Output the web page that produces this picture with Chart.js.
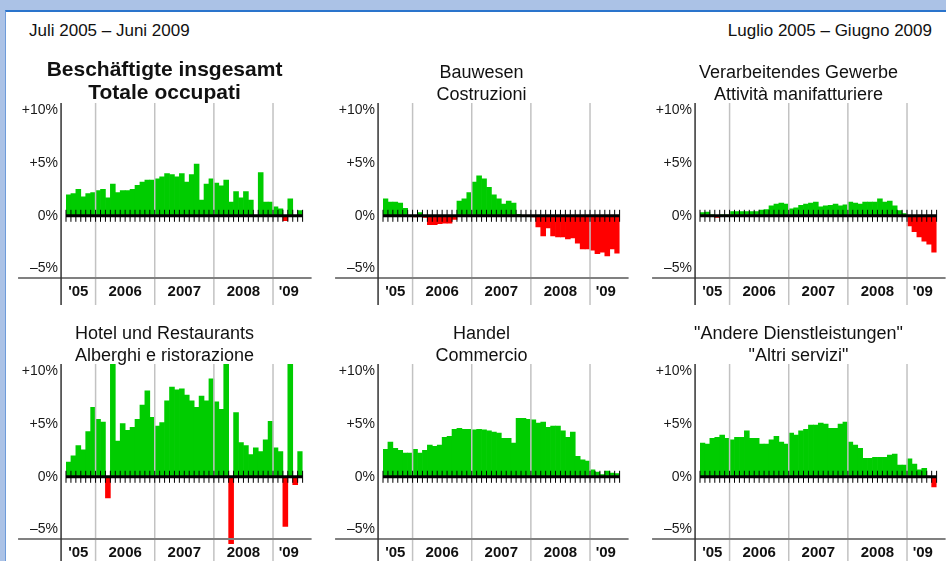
<!DOCTYPE html>
<html>
<head>
<meta charset="utf-8">
<script src="https://cdn.jsdelivr.net/npm/chart.js@4.4.1/dist/chart.umd.min.js"></script>
<style>
html, body { margin: 0; padding: 0; }
body { width: 946px; height: 561px; background: #abc2e6; overflow: hidden; position: relative; font-family: "Liberation Sans", Arial, sans-serif; }
#frame { position: absolute; left: 5px; top: 10px; right: 0; bottom: 0; background: #fff; border-top: 2px solid #2a74cc; border-left: 1px solid #6e9bd9; }
.head { position: absolute; top: 20px; font-size: 17px; line-height: 22px; color: #111; }
.panel { position: absolute; width: 305px; }
.row0 { top: 50px; height: 255px; }
.row1 { top: 311px; height: 250px; }
</style>
</head>
<body>
<div id="frame"></div>
<div class="head" style="left:29px">Juli 2005 – Juni 2009</div>
<div class="head" style="right:14px">Luglio 2005 – Giugno 2009</div>

<div class="panel row0" style="left:10px"><canvas id="c1"></canvas></div>
<div class="panel row0" style="left:327px"><canvas id="c2"></canvas></div>
<div class="panel row0" style="left:644px"><canvas id="c3"></canvas></div>
<div class="panel row1" style="left:10px"><canvas id="c4"></canvas></div>
<div class="panel row1" style="left:327px"><canvas id="c5"></canvas></div>
<div class="panel row1" style="left:644px"><canvas id="c6"></canvas></div>

<script>
// months July 2005 - June 2009
const months = [
  'Jul 05','Aug 05','Sep 05','Oct 05','Nov 05','Dec 05',
  'Jan 06','Feb 06','Mar 06','Apr 06','May 06','Jun 06','Jul 06','Aug 06','Sep 06','Oct 06','Nov 06','Dec 06',
  'Jan 07','Feb 07','Mar 07','Apr 07','May 07','Jun 07','Jul 07','Aug 07','Sep 07','Oct 07','Nov 07','Dec 07',
  'Jan 08','Feb 08','Mar 08','Apr 08','May 08','Jun 08','Jul 08','Aug 08','Sep 08','Oct 08','Nov 08','Dec 08',
  'Jan 09','Feb 09','Mar 09','Apr 09','May 09','Jun 09'
];
const yearLabels = ["'05", '2006', '2007', '2008', "'09"];
const yearStarts = [0, 6, 18, 30, 42]; // index of first month of each year
const yTicks = [-5, 0, 5, 10];

// change vs. same month of previous year, %
const total = [2.0, 2.1, 2.5, 1.8, 2.1, 2.2,
  2.4, 2.5, 1.7, 3.0, 2.2, 2.4, 2.4, 2.5, 2.9, 3.2, 3.4, 3.4,
  3.5, 3.7, 4.0, 3.9, 3.7, 4.0, 3.2, 3.9, 4.9, 1.5, 3.0, 3.5,
  3.1, 2.85, 3.4, 1.3, 2.3, 1.7, 2.3, 1.5, 0, 4.1, 1.3, 1.3,
  0.85, 0.65, -0.45, 1.6, 0, 0.5];
const construction = [1.6, 1.3, 1.3, 1.2, 0.7, 0,
  -0.1, 0.3, -0.15, -0.85, -0.85, -0.75, -0.7, -0.7, -0.35, 1.4, 1.6, 2.2,
  3.2, 3.8, 3.5, 2.7, 2.0, 1.6, 1.1, 1.4, 1.2, 0.15, 0, 0,
  -0.1, -1.05, -1.9, -1.15, -1.9, -2.0, -2.0, -2.2, -2.1, -2.6, -3.15, -3.15,
  -3.25, -3.6, -3.45, -3.8, -3.15, -3.55];
const manufacturing = [0.3, 0.35, 0.1, -0.15, 0.1, 0.1,
  0.4, 0.4, 0.4, 0.4, 0.4, 0.4, 0.55, 0.6, 0.95, 1.1, 1.2, 1.1,
  0.65, 0.75, 1.0, 1.1, 1.2, 1.3, 0.85, 0.95, 1.0, 1.1, 0.95, 1.05,
  1.3, 1.2, 1.1, 1.3, 1.3, 1.3, 1.6, 1.3, 1.4, 0.95, 0.5, 0.2,
  -0.95, -1.5, -2.0, -2.4, -2.7, -3.45];
const hotels = [1.4, 2.0, 2.95, 2.55, 4.3, 6.6,
  5.45, 5.2, -2.0, 11.5, 3.4, 5.05, 4.4, 4.7, 5.45, 6.8, 8.15, 5.65,
  4.8, 5.15, 7.2, 8.5, 8.25, 8.35, 7.75, 7.2, 6.6, 7.65, 7.2, 9.3,
  7.1, 6.4, 11.5, -6.4, 6.1, 3.25, 2.95, 2.1, 2.75, 2.4, 3.5, 5.25,
  2.75, 2.4, -4.7, 11.5, -0.75, 2.4];
const trade = [2.6, 3.3, 2.7, 2.5, 2.25, 2.25,
  2.6, 2.25, 2.5, 3.0, 2.9, 3.0, 3.75, 3.85, 4.5, 4.6, 4.5, 4.5,
  4.45, 4.5, 4.45, 4.35, 4.25, 4.15, 3.65, 3.65, 3.2, 5.55, 5.55, 5.45,
  5.4, 5.1, 5.2, 4.7, 4.8, 4.8, 4.35, 3.75, 4.25, 1.95, 1.6, 1.5,
  0.65, 0.45, 0.2, 0.55, 0.35, 0.3];
const otherServices = [3.2, 3.1, 3.65, 3.75, 3.95, 3.65,
  3.5, 3.75, 3.75, 4.35, 3.65, 3.65, 3.1, 3.1, 3.5, 3.85, 3.3, 3.1,
  4.15, 3.95, 4.35, 4.5, 4.9, 4.9, 5.1, 5.0, 4.6, 4.6, 5.0, 5.2,
  3.3, 3.0, 2.7, 1.75, 1.75, 1.85, 1.85, 1.85, 2.05, 2.15, 1.1, 1.1,
  1.7, 1.2, 0.65, 0.8, 0, -0.95];

const FONT = '"Liberation Sans", Arial, sans-serif';
Chart.defaults.font.family = FONT;

// axis lines, year separators, zero line with month ticks, year labels, title
const decor = {
  id: 'decor',
  afterDatasetsDraw(chart, args, opts) {
    const { ctx, chartArea: a, scales: { x, y } } = chart;
    const w = x.getPixelForValue(1) - x.getPixelForValue(0);
    const edge = i => x.getPixelForValue(i - 0.5);
    const axisX = a.left - w;
    const bottom = chart.height;
    const line = (x1, y1, x2, y2) => { ctx.beginPath(); ctx.moveTo(x1, y1); ctx.lineTo(x2, y2); ctx.stroke(); };
    ctx.save();

    ctx.strokeStyle = '#c2c2c2';
    ctx.lineWidth = 1.5;
    yearStarts.slice(1).forEach(i => line(edge(i), a.top, edge(i), bottom));

    const y0 = y.getPixelForValue(0);
    ctx.strokeStyle = '#000';
    ctx.lineWidth = 3;
    line(edge(0), y0, edge(months.length), y0);
    ctx.lineWidth = 1;
    for (let i = 0; i <= months.length; i++) line(edge(i), y0 - 6, edge(i), y0 + 6);

    ctx.strokeStyle = '#808080';
    ctx.lineWidth = 2;
    line(axisX - 43, a.bottom, a.right + 9, a.bottom);

    ctx.strokeStyle = '#333';
    ctx.lineWidth = 1.5;
    line(axisX, a.top, axisX, bottom);

    ctx.fillStyle = '#111';
    ctx.textAlign = 'center';
    ctx.textBaseline = 'middle';
    ctx.font = 'bold 15px ' + FONT;
    yearLabels.forEach((t, k) => {
      const l = k === 0 ? axisX : edge(yearStarts[k]);
      const r = k + 1 < yearStarts.length ? edge(yearStarts[k + 1]) : a.right + 2;
      ctx.fillText(t, (l + r) / 2, a.bottom + 14);
    });

    const cx = chart.width / 2 + 2;
    if (opts.bold) {
      ctx.font = 'bold 21px ' + FONT;
      ctx.fillText(opts.title[0], cx, a.top - 33);
      ctx.fillText(opts.title[1], cx, a.top - 10);
    } else {
      ctx.font = '18px ' + FONT;
      ctx.fillText(opts.title[0], cx, a.top - 30);
      ctx.fillText(opts.title[1], cx, a.top - 8);
    }
    ctx.restore();
  }
};

function makePanel(id, values, title, bold, padBottom) {
  new Chart(document.getElementById(id), {
    type: 'bar',
    data: {
      labels: months,
      datasets: [{
        data: values,
        backgroundColor: c => c.raw < 0 ? '#ff0000' : '#00cc00',
        barPercentage: 1,
        categoryPercentage: 1,
        clip: { left: 0, top: 0, right: 0, bottom: 5 }
      }]
    },
    options: {
      responsive: true,
      maintainAspectRatio: false,
      animation: false,
      layout: { padding: { top: 53, right: 12.4, bottom: padBottom, left: 0 } },
      plugins: {
        legend: { display: false },
        tooltip: { enabled: false },
        decor: { title: title, bold: bold }
      },
      scales: {
        x: { display: false },
        y: {
          min: -5.9,
          max: 10.7,
          grid: { display: false, drawTicks: false },
          border: { display: false },
          afterBuildTicks: s => { s.ticks = yTicks.map(v => ({ value: v })); },
          afterFit: s => { s.width = 56; },
          ticks: {
            padding: 8,
            color: '#1a1a1a',
            font: { size: 14 },
            callback: v => v > 0 ? '+' + v + '%' : v < 0 ? '\u2013' + Math.abs(v) + '%' : '0%'
          }
        }
      }
    },
    plugins: [decor]
  });
}

makePanel('c1', total, ['Beschäftigte insgesamt', 'Totale occupati'], true, 27);
makePanel('c2', construction, ['Bauwesen', 'Costruzioni'], false, 27);
makePanel('c3', manufacturing, ['Verarbeitendes Gewerbe', 'Attività manifatturiere'], false, 27);
makePanel('c4', hotels, ['Hotel und Restaurants', 'Alberghi e ristorazione'], false, 22);
makePanel('c5', trade, ['Handel', 'Commercio'], false, 22);
makePanel('c6', otherServices, ['"Andere Dienstleistungen"', '"Altri servizi"'], false, 22);
</script>
</body>
</html>
